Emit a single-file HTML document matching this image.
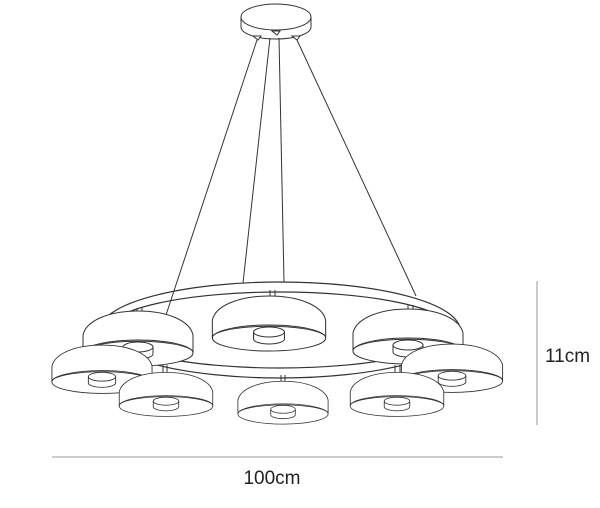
<!DOCTYPE html>
<html><head><meta charset="utf-8"><style>
html,body{margin:0;padding:0;background:#fff;width:600px;height:508px;overflow:hidden}
text{font-family:"Liberation Sans",sans-serif;fill:#222}
</style></head><body>
<svg width="600" height="508" viewBox="0 0 600 508" xmlns="http://www.w3.org/2000/svg">
<defs>
<g id="lamp" fill="#fff" stroke="#333" stroke-width="1">
  <path d="M-55,0 L-55,-18 C-52,-32 -30,-42 0,-42 C30,-42 52,-32 55,-18 L55,0 Z"/>
  <ellipse cx="0" cy="0" rx="55" ry="13"/>
  <path d="M-55,-2 C-40,-15 40,-15 55,-2" fill="none"/>
  <path d="M-15,-6 L-15,1 A15,5 0 0 0 15,1 L15,-6" />
  <ellipse cx="0" cy="-6" rx="15" ry="5"/>
</g>
</defs>
<g fill="none" stroke="#333" stroke-width="1">
  <!-- canopy -->
  <path d="M241,17 L241,27 A35,12 0 0 0 311,27 L311,17" fill="#fff"/>
  <ellipse cx="276" cy="17" rx="35" ry="13" fill="#fff"/>
  <path d="M253,36 l8,0 l-3,4 z M272,31 l8,0 l-3,4 z M292,36 l8,0 l-3,4 z" fill="#fff"/>
  <!-- wires -->
  <line x1="257" y1="40" x2="165" y2="318"/>
  <line x1="270" y1="38" x2="243" y2="283"/>
  <line x1="279" y1="38" x2="284" y2="282"/>
  <line x1="297" y1="40" x2="416" y2="296"/>
  <!-- ring -->
  <ellipse cx="280" cy="330" rx="180" ry="48" stroke-width="1.2"/>
  <ellipse cx="280" cy="330" rx="172" ry="38" stroke-width="1.2"/>
  <!-- stems -->
  <path d="M137,308 v10 M142,308 v10 M270,290 v10 M275,290 v10 M408,305 v10 M413,305 v10 M163,365 v10 M167,365 v10 M281,375 v10 M285,375 v10 M395,365 v10 M400,365 v10"/>
</g>
<use href="#lamp" transform="translate(269,338) scale(1.03,1)"/>
<use href="#lamp" transform="translate(138,353)"/>
<use href="#lamp" transform="translate(408,351)"/>
<use href="#lamp" transform="translate(102,382) scale(0.91,0.88)"/>
<use href="#lamp" transform="translate(452,381) scale(0.92,0.88)"/>
<use href="#lamp" transform="translate(166,406) scale(0.85,0.8)"/>
<use href="#lamp" transform="translate(397,406) scale(0.85,0.8)"/>
<use href="#lamp" transform="translate(283,414) scale(0.82,0.78)"/>
<g stroke="#999" stroke-width="1">
  <line x1="52" y1="457" x2="503" y2="457"/>
  <line x1="537" y1="281" x2="537" y2="425"/>
</g>
<text x="272" y="484" font-size="19" text-anchor="middle">100cm</text>
<text x="545" y="362" font-size="19">11cm</text>
</svg>
</body></html>
